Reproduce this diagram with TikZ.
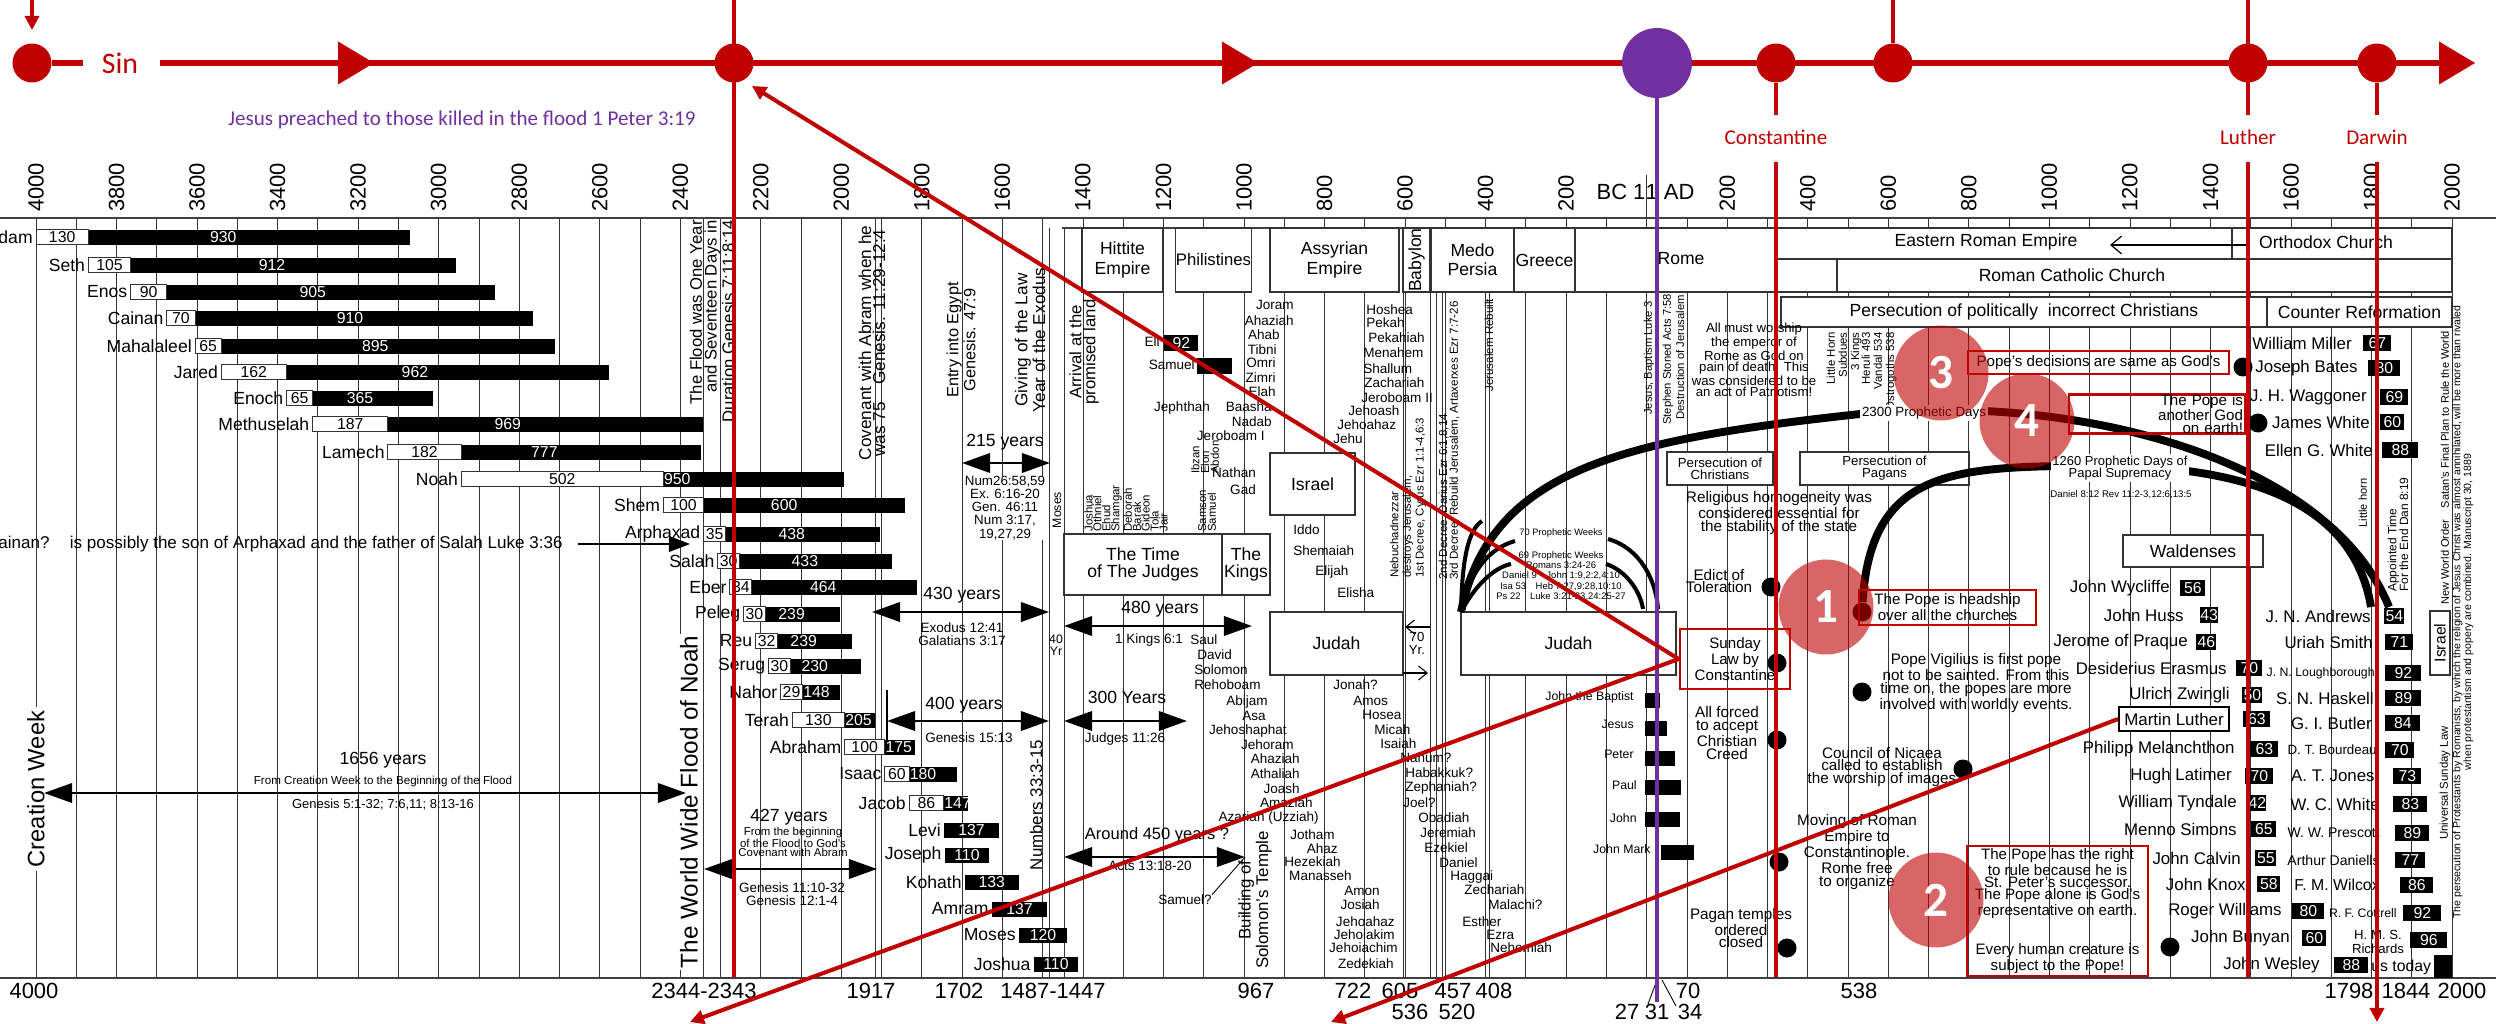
\documentclass[tikz,border=0pt]{standalone}
\usepackage{fontspec}
\setmainfont{Liberation Sans}
\newfontfamily\calibri{Carlito}
\usetikzlibrary{arrows.meta,positioning}
\definecolor{timered}{HTML}{C00000}
\definecolor{christpurple}{HTML}{7030A0}
\newcommand{\fsz}[2]{\fontsize{#1}{#2}\selectfont}

\begin{document}
\begin{tikzpicture}[x=0.02cm, y=-0.02cm,
  gridline/.style={black!80, line width=0.45pt},
  axisline/.style={black!75, line width=0.7pt},
  yearlab/.style={font=\fsz{12.5}{13}, inner sep=0pt},
  pname/.style={anchor=east, inner sep=0pt, font=\fsz{10}{11}},
  agebox/.style={draw=black!80, fill=white, line width=0.5pt},
  barnum/.style={inner sep=0pt, font=\fsz{9}{9}},
  era/.style={draw=black!80, fill=white, line width=0.6pt, align=center,
    inner sep=0pt, font=\fsz{10}{11}},
  dims/.style 2 args={minimum width=#1*0.02cm, minimum height=#2*0.02cm},
  note/.style={align=center, inner sep=0pt, font=\fsz{8.7}{7.2}},
  smallnote/.style={align=center, inner sep=0pt, font=\fsz{7.7}{7.4}},
  tinynote/.style={align=center, inner sep=0pt, font=\fsz{6.5}{5.5}},
  sideways/.style={rotate=90, inner sep=0pt},
  yearspan/.style={line width=1.6pt,
    {Triangle[length=16pt,width=11pt]}-{Triangle[length=16pt,width=11pt]}},
  spanlab/.style={inner sep=0pt, font=\fsz{10}{11}},
  kname/.style={inner sep=0pt, font=\fsz{7.7}{8}},
  rname/.style={anchor=east, inner sep=0pt, font=\fsz{9.6}{10}},
  lifebox/.style={fill=black, text=white, inner sep=0pt, font=\fsz{9}{9},
    minimum height=0.31cm, anchor=west},
  evdot/.style={circle, fill=black, inner sep=0pt, minimum size=0.38cm},
  prophecy/.style={line width=4.5pt},
  weeks/.style={line width=2.3pt},
  redbox/.style={draw=timered, line width=1.5pt, align=center, inner sep=0pt,
    font=\fsz{8.6}{7.2}},
  redline/.style={timered, line width=2.3pt},
  redarrow/.style={redline, -{Triangle[length=8pt,width=8pt]}},
  timeline/.style={timered, line width=3.2pt},
  redpt/.style={circle, fill=timered, inner sep=0pt, minimum size=0.78cm},
  redlab/.style={text=timered, font=\calibri\fsz{12}{12}, inner sep=0pt},
  numdot/.style={circle, fill=timered, fill opacity=0.6, text opacity=1,
    text=white, font=\calibri\bfseries\fsz{28}{28}, minimum size=1.9cm,
    inner sep=0pt},
]
\useasboundingbox (0,0) rectangle (2496,1024);

% ---------- chart frame
\foreach \k in {0,...,60}
  \draw[gridline] ({36+40.267*\k},218) -- ({36+40.267*\k},978);
\foreach \gx/\gy in {703/218,720/435,875/218,881/218,1042/218,1049/228,1064/228,
  1403/228,1430/228,1436/292,1442/292,1485/292,1489/292,1646/175}
  \draw[gridline] (\gx,\gy) -- (\gx,978);
\draw[axisline] (0,218) -- (2496,218);
\draw[axisline] (1062,228) -- (2452,228);
\draw[axisline] (0,978) -- (2496,978);

\foreach \yr in {4000,3800,...,200}
  \node[yearlab, rotate=90, anchor=west] (bc\yr) at ({36+0.40267*(4000-\yr)},212) {\yr};
\foreach \yr in {200,400,...,2000}
  \node[yearlab, rotate=90, anchor=west] (ad\yr) at ({1646.7+0.40267*\yr},212) {\yr};
\node[yearlab] (bc1) at (1621,192) {BC 1};
\node[yearlab] (ad1) at (1670,192) {1 AD};

\foreach \lab/\lx [count=\i] in {4000/34, 2344-2343/704, 1917/871, 1702/959,
  1487-1447/1053, 967/1256, 722/1353, 605/1400, 457/1453, 408/1494, 70/1688,
  538/1859, 1798/2349, 1844/2406, 2000/2462}
  \node[yearlab] (bot\i) at (\lx,991) {\lab};
\foreach \lab/\lx [count=\i] in {536/1410, 520/1457, 27/1627, 31/1657, 34/1690}
  \node[yearlab] (low\i) at (\lx,1012) {\lab};
\draw[line width=0.5pt] (1648,1004) -- (1657,980);
\draw[line width=0.5pt] (1662,980) -- (1676,1006);

% ---------- patriarchs
\foreach \nm/\by/\bx/\tot/\ry in {Adam/4000/130/930/237, Seth/3870/105/912/265,
  Enos/3765/90/905/292, Cainan/3675/70/910/318, Mahalaleel/3605/65/895/346,
  Jared/3540/162/962/372, Enoch/3378/65/365/398, Methuselah/3313/187/969/424,
  Lamech/3126/182/777/452, Noah/2944/502/950/479, Shem/2442/100/600/505,
  Arphaxad/2342/35/438/534, Salah/2307/30/433/561, Eber/2277/34/464/587,
  Peleg/2243/30/239/614, Reu/2213/32/239/641, Serug/2181/30/230/666,
  Nahor/2151/29/148/692, Terah/2122/130/205/720, Abraham/1992/100/175/747,
  Isaac/1892/60/180/774, Jacob/1832/86/147/803, Levi/1745/0/137/830,
  Joseph/1743/0/110/855, Kohath/1693/0/133/882, Amram/1626/0/137/909,
  Moses/1559/0/120/935, Joshua/1522/0/110/964}{
  \pgfmathsetmacro\xs{36+0.40267*(4000-\by)}
  \pgfmathsetmacro\xb{\xs}
  \ifnum\bx>0 \pgfmathsetmacro\xb{\xs+max(0.40267*\bx,22)}\fi
  \pgfmathsetmacro\xe{\xs+0.40267*\tot}
  \pgfmathsetmacro\xt{max((\xs+\xe)/2,\xb+14)}
  \fill (\xb,\ry-7.5) rectangle (\xe,\ry+7.5);
  \ifnum\bx>0
    \draw[agebox] (\xs,\ry-7.5) rectangle (\xb,\ry+7.5);
    \node[barnum] (a\nm) at ({(\xs+\xb)/2},\ry) {\bx};
  \fi
  \node[barnum, text=white] (t\nm) at (\xt,\ry) {\tot};
  \node[pname] (p\nm) at (\xs-3,\ry) {\nm};
}

% ---------- empires
\node[era, dims={81}{64}] (hittite) at (1122.5,260) {Hittite\\Empire};
\node[era, dims={75}{64}, font=\fsz{9.5}{10}] (philistines) at (1213.5,260) {Philistines};
\node[era, dims={129}{64}] (assyria) at (1334.5,260) {Assyrian\\Empire};
\node[era, dims={27}{64}] (babylon) at (1416.5,260) {};
\node[sideways, font=\fsz{10}{10}] (babylonlab) at (babylon) {Babylon};
\node[era, dims={83}{64}] (medopersia) at (1472.5,260) {Medo\\Persia};
\node[era, dims={61}{64}] (greece) at (1544.5,260) {Greece};
\draw[era] (1575,228) -- (1777,228) -- (1777,259) -- (1837,259) -- (1837,292)
  -- (1575,292) -- cycle;
\node[inner sep=0pt, font=\fsz{10}{11}] (rome) at (1681,259) {Rome};
\node[era, dims={455}{31}] (eastrome) at (2004.5,243.5) {};
\node[inner sep=0pt, font=\fsz{10}{11}] (eastromelab) at (1986,242) {Eastern Roman Empire};
\node[era, dims={220}{31}] (orthodox) at (2342,243.5) {};
\node[inner sep=0pt, font=\fsz{10}{11}] (orthodoxlab) at (2326,242) {Orthodox Church};
\coordinate (schism) at (2247,245);
\coordinate (schismtip) at (2110,245);
\draw[line width=0.7pt, -{Straight Barb[length=6pt,width=10pt]}] (schism) -- (schismtip);
\node[era, dims={615}{33}] (catholic) at (2144.5,275.5) {};
\node[inner sep=0pt, font=\fsz{10}{11}] (catholiclab) at (2072,275) {Roman Catholic Church};
\node[era, dims={486}{30}] (incorrect) at (2024,312) {Persecution of politically\ \ incorrect Christians};
\node[era, dims={185}{30}] (counterref) at (2359.5,312) {Counter Reformation};
\node[era, dims={158}{61}, font=\fsz{10}{10}] (judges) at (1143,564.5) {The Time\\of The Judges};
\node[era, dims={48}{61}, font=\fsz{10}{10}] (kings) at (1246,564.5) {The\\Kings};
\node[era, dims={85}{62}] (israel) at (1312.5,484) {Israel};
\node[era, dims={133}{63}] (judahleft) at (1336.5,643.5) {Judah};
\node[era, dims={215}{63}] (judahright) at (1568.5,643.5) {Judah};
\node[era, dims={106}{33}, font=\fsz{7.5}{6.8}] (persecchr) at (1720,468.5) {Persecution of\\Christians};
\node[era, dims={169}{33}, font=\fsz{7.5}{6.8}] (persecpag) at (1884.5,468.5) {Persecution of\\Pagans};
\node[era, dims={140}{32}] (waldenses) at (2193,551) {Waldenses};
\node[era, dims={20}{64}] (israelright) at (2440,643) {};
\node[sideways, font=\fsz{9}{9}] (israelrightlab) at (israelright) {Israel};

% ---------- exile
\node[tinynote, font=\fsz{7.5}{7.5}] (yr70) at (1417,643) {70\\Yr.};
\coordinate (exileA) at (1430,627);
\coordinate (exileB) at (1405,627);
\coordinate (exileC) at (1403,673);
\coordinate (exileD) at (1428,673);
\draw[line width=0.6pt, -{Straight Barb[length=5pt,width=8pt]}] (exileA) -- (exileB);
\draw[line width=0.6pt, -{Straight Barb[length=5pt,width=8pt]}] (exileC) -- (exileD);

% ---------- flood and creation
\node[sideways, font=\fsz{13.5}{14}, fill=white, inner sep=2pt] (creationweek) at (36,789) {Creation Week};
\node[sideways, font=\fsz{13.8}{14}, fill=white, inner sep=1pt] (worldflood) at (689,802) {The World Wide Flood of Noah};
\node[sideways, anchor=east, align=right, font=\fsz{9.5}{8.4}] (floodyear) at (713,220)
  {The Flood was One Year\\and Seventeen Days in\\Duration Genesis 7:11;8:14};
\node[sideways, align=center, font=\fsz{9.8}{8}] (covenant) at (872,343)
  {Covenant with Abram when he\\was 75\quad Genesis. 11:29-12:4};
\node[sideways, align=center, font=\fsz{9.3}{8.5}] (egypt) at (961,340) {Entry into Egypt\\Genesis. 47:9};
\node[sideways, align=center, font=\fsz{9.8}{6}] (exodus) at (1030,340) {Giving of the Law\\Year of the Exodus};
\node[sideways, align=center, font=\fsz{9.5}{6}] (arrival) at (1084,352) {Arrival at the\\promised land};
\node[sideways, font=\fsz{9.6}{9}] (numbers) at (1036,805) {Numbers 33:3-15};
\node[sideways, font=\fsz{7}{7}] (mosesv) at (1057,510) {Moses};
\node[sideways, align=center, font=\fsz{9.6}{10}] (temple) at (1255,900) {Building of\\Solomon's Temple};
\node[sideways, anchor=west, align=left, font=\fsz{6.5}{5.1}] (judgenames) at (1126,532)
  {Joshua\\Othniel\\Ehud\\Shamgar\\Deborah\\Barak\\Gideon\\Tola\\Jair};
\node[sideways, anchor=west, align=left, font=\fsz{6.5}{5.5}] (judgenames2) at (1205,474) {Ibzan\\Elon\\Abdon};
\node[sideways, anchor=west, align=left, font=\fsz{6.5}{5.5}] (judgenames3) at (1207,532) {Samson\\Samuel};

\node[anchor=east, inner sep=0pt, font=\fsz{9.7}{10}] (cainan) at (563,544)
  {Cainan?\hspace{1.2em}is possibly the son of Arphaxad and the father of Salah Luke 3:36};
\coordinate (cainantip) at (690,544);
\draw[line width=0.8pt, -{Triangle[length=12pt,width=9pt]}, shorten <=0.3cm] (cainan.east) -- (cainantip);

% ---------- spans of years
\coordinate (cw1656) at (44,793);
\coordinate (fl1656) at (686,793);
\draw[yearspan] (cw1656) -- (fl1656);
\node[spanlab] (y1656) at (383,760) {1656 years};
\node[tinynote, font=\fsz{6.6}{6}, below=4pt of y1656] (y1656note) {From Creation Week to the Beginning of the Flood};
\node[smallnote, font=\fsz{7.4}{7.4}] (y1656ref) at (383,805) {Genesis 5:1-32; 7:6,11; 8:13-16};

\node[spanlab] (y427) at (789,817) {427 years};
\node[tinynote, font=\fsz{6.5}{4.9}] (y427note) at (793,842) {From the beginning\\of the Flood to God's\\Covenant with Abram};
\coordinate (fl427) at (704,869);
\coordinate (ab427) at (877,869);
\draw[yearspan] (fl427) -- (ab427);
\node[smallnote] (y427ref) at (792,894) {Genesis 11:10-32\\Genesis 12:1-4};

\node[spanlab] (y215) at (1005,442) {215 years};
\coordinate (eg215) at (962,463);
\coordinate (ex215) at (1050,463);
\draw[yearspan] (eg215) -- (ex215);
\node[smallnote, fill=white, font=\fsz{7.6}{7.5}] (ref215) at (1005,508) {Num26:58,59\\Ex. 6:16-20\\Gen. 46:11\\Num 3:17,\\19,27,29};

\node[spanlab] (y430) at (962,595) {430 years};
\coordinate (ab430) at (872,612);
\coordinate (ex430) at (1049,612);
\draw[yearspan] (ab430) -- (ex430);
\node[smallnote] (ref430) at (962,634) {Exodus 12:41\\Galatians 3:17};

\node[spanlab] (y400) at (964,705) {400 years};
\coordinate (ab400) at (887,721);
\coordinate (ex400) at (1049,721);
\draw[yearspan] (ab400) -- (ex400);
\draw[line width=1.6pt] (887,690) -- (887,742);
\node[smallnote] (ref400) at (969,738) {Genesis 15:13};
\node[tinynote, font=\fsz{7}{6.5}] (yr40) at (1056,645) {40\\Yr};

\node[spanlab] (y480) at (1160,609) {480 years};
\coordinate (ex480) at (1064,626);
\coordinate (tp480) at (1252,626);
\draw[yearspan] (ex480) -- (tp480);
\node[smallnote] (ref480) at (1149,640) {1 Kings 6:1};

\node[spanlab] (y300) at (1127,697) {300 Years};
\coordinate (ex300) at (1064,721);
\coordinate (jp300) at (1187,721);
\draw[yearspan] (ex300) -- (jp300);
\node[smallnote] (ref300) at (1125,739) {Judges 11:26};

\node[spanlab, font=\fsz{9.4}{10}] (y450) at (1157,835) {Around 450 years ?};
\coordinate (ex450) at (1064,857);
\coordinate (sm450) at (1245,857);
\draw[yearspan] (ex450) -- (sm450);
\node[smallnote] (ref450) at (1150,866) {Acts 13:18-20};
\node[smallnote] (samuelq) at (1185,900) {Samuel?};
\draw[line width=0.5pt] (samuelq.north east) -- (sm450);

% ---------- judges and kings
\node[kname, anchor=east] (eli) at (1160,342) {Eli};
\node[lifebox, minimum width=0.68cm] (eli92) at (1164,343) {92};
\node[kname, anchor=east] (samuel) at (1195,365) {Samuel};
\node[lifebox, minimum width=0.7cm] (samuelbar) at (1197,366) {};
\node[kname] (jephthah) at (1182,408) {Jephthah};
\node[kname] (nathan) at (1234,473) {Nathan};
\node[kname] (gad) at (1243,490) {Gad};

\foreach \nm/\kx/\ky [count=\i] in {Joram/1294/305, Ahaziah/1294/321, Ahab/1280/335,
  Tibni/1277/350, Omri/1276/363, Zimri/1276/378, Elah/1276/392, Baasha/1272/407,
  Nadab/1272/422, Jeroboam I/1265/436}
  \node[kname, anchor=east] (ik\i) at (\kx,\ky) {\nm};
\foreach \nm/\kx/\ky [count=\i] in {Hoshea/1366/310, Pekah/1366/323, Pekahiah/1368/338,
  Menahem/1363/353, Shallum/1363/369, Zachariah/1364/383, Jeroboam II/1361/398,
  Jehoash/1348/411, Jehoahaz/1337/425, Jehu/1333/439}
  \node[kname, anchor=west] (iw\i) at (\kx,\ky) {\nm};
\foreach \nm/\kx/\ky [count=\i] in {Iddo/1293/530, Shemaiah/1293/551, Elijah/1315/572,
  Elisha/1337/593}
  \node[kname, anchor=west] (pp\i) at (\kx,\ky) {\nm};
\foreach \nm/\kx/\ky [count=\i] in {Saul/1190/640, David/1197/655, Solomon/1194/670,
  Rehoboam/1194/685}
  \node[kname, anchor=west] (jw\i) at (\kx,\ky) {\nm};
\foreach \nm/\kx/\ky [count=\i] in {Abijam/1268/702, Asa/1266/716, Jehoshaphat/1287/731,
  Jehoram/1294/745, Ahaziah/1300/759, Athaliah/1300/774, Joash/1300/789,
  Amaziah/1313/803, Azariah (Uzziah)/1319/818, Jotham/1335/835, Ahaz/1338/849,
  Hezekiah/1341/862, Manasseh/1352/876, Amon/1380/891, Josiah/1380/905,
  Jehoahaz/1395/922, Jehoiakim/1395/935, Jehoiachim/1398/948, Zedekiah/1394/964}
  \node[kname, anchor=east] (jk\i) at (\kx,\ky) {\nm};
\foreach \nm/\kx/\ky [count=\i] in {Jonah?/1333/685, Amos/1353/701, Hosea/1362/715,
  Micah/1374/730, Isaiah/1380/744, Nahum?/1400/758, Habakkuk?/1405/773,
  Zephaniah?/1405/788, Joel?/1403/803, Obadiah/1418/818, Jeremiah/1420/833,
  Ezekiel/1424/848, Daniel/1439/863, Haggai/1450/877, Zechariah/1464/890,
  Malachi?/1488/905, Esther/1462/922, Ezra/1486/935, Nehemiah/1490/948}
  \node[kname, anchor=west] (pr\i) at (\kx,\ky) {\nm};

% ---------- decrees and apostles
\node[sideways, anchor=west, align=left, font=\fsz{6.5}{7.2}] (decree1) at (1408,578)
  {Nebuchadnezzar\\destroys Jerusalem,\\1st Decree, Cyrus Ezr 1:1-4,6:3};
\node[sideways, anchor=west, align=left, font=\fsz{6.6}{6.2}] (decree2) at (1449,580)
  {2nd Decree, Darius Ezr 6:1,8,14\\3rd Decree, Rebuild Jerusalem, Artaxerxes Ezr 7:7-26};
\node[sideways, anchor=west, font=\fsz{6.6}{6}] (rebuilt) at (1489,392) {Jerusalem Rebuilt};
\node[sideways, anchor=west, font=\fsz{6.4}{6}] (baptism) at (1649,415) {Jesus, Baptism Luke 3};
\node[sideways, anchor=west, font=\fsz{6.4}{6}] (stephen) at (1668,425) {Stephen Stoned Acts 7:58};
\node[sideways, anchor=west, font=\fsz{6.4}{6}] (destruction) at (1680,420) {Destruction of Jerusalem};

\foreach \nm/\ax/\ay/\bxa/\bxb/\by [count=\i] in {John the Baptist/1634/697/1645/1660/700,
  Jesus/1634/724/1645/1667/728, Peter/1634/754/1645/1675/758, Paul/1637/785/1645/1681/787,
  John/1637/818/1645/1680/819, John Mark/1651/849/1661/1694/852}{
  \node[kname, anchor=east, font=\fsz{7}{7}] (apostle\i) at (\ax,\ay) {\nm};
  \fill (\bxa,\by-7.5) rectangle (\bxb,\by+7.5);
}

% ---------- church notes
\node[note, font=\fsz{7.5}{6.2}] (allmust) at (1754,360)
  {All must worship\\the emperor of\\Rome as God on\\pain of death. This\\was considered to be\\an act of Patriotism!};
\node[sideways, anchor=east, align=right, font=\fsz{6.5}{6.9}] (horn) at (1844,332) {Little Horn\\Subdues\\3 Kings};
\node[sideways, anchor=east, align=right, font=\fsz{6.5}{6.9}] (kings3) at (1879,332) {Heruli 493\\Vandal 534\\Ostrogoths 538};
\node[note] (religious) at (1779,513) {Religious homogeneity was\\considered essential for\\the stability of the state};
\node[note] (edict) at (1719,581) {Edict of\\Toleration};
\node[note] (allforced) at (1727,733) {All forced\\to accept\\Christian\\Creed};
\node[note] (moving) at (1857,852) {Moving of Roman\\Empire to\\Constantinople.\\Rome free\\to organize};
\node[note] (pagan) at (1741,928) {Pagan temples\\ordered\\closed};
\node[note] (vigilius) at (1976,683) {Pope Vigilius is first pope\\not to be sainted. From this\\time on, the popes are more\\involved with worldly events.};
\node[note] (nicaea) at (1882,767) {Council of Nicaea\\called to establish\\the worship of images};

\foreach \dx/\dy [count=\i] in {1771/587, 1777/663, 1777/740, 1779/862, 1787/948,
  1862/612, 1862/692, 1963/769, 2170/947, 2243/367, 2258/423}
  \node[evdot] (ev\i) at (\dx,\dy) {};

% ---------- reformers
\foreach \nm/\rx/\ry/\num/\bx/\bw [count=\i] in {John Wycliffe/2170/588/56/2180/25,
  John Huss/2184/615/43/2200/16, Jerome of Praque/2188/642/46/2196/20,
  Desiderius Erasmus/2227/668/70/2236/26, Ulrich Zwingli/2230/695/50/2242/20,
  Philipp Melanchthon/2235/749/63/2250/28, Hugh Latimer/2232/776/70/2245/28,
  William Tyndale/2237/803/42/2248/18, Menno Simons/2237/829/65/2251/25,
  John Calvin/2241/858/55/2255/21, John Knox/2246/884/58/2257/23,
  Roger Williams/2282/911/80/2292/32, John Bunyan/2290/938/60/2302/24,
  John Wesley/2320/965/88/2334/34}{
  \pgfmathsetmacro\bwcm{\bw*0.02}
  \node[rname] (rf\i) at (\rx,\ry) {\nm};
  \node[lifebox, minimum width=\bwcm cm] (rl\i) at (\bx,\ry) {\num};
}
\node[draw, fill=white, line width=1.2pt, inner sep=0pt, font=\fsz{9.6}{10}, dims={110}{24}] (lutherbox) at (2174,719) {Martin Luther};
\node[lifebox, minimum width=0.54cm] (lutherage) at (2243,719) {63};

\foreach \nm/\rx/\ry/\num/\bx/\bw/\fs [count=\i] in {William Miller/2352/343/67/2363/28/9.6,
  Joseph Bates/2358/368/80/2368/32/9.6, J. H. Waggoner/2367/397/69/2380/28/9.6,
  James White/2370/422/60/2380/24/9.6, Ellen G. White/2373/450/88/2382/36/9.6,
  J. N. Andrews/2371/616/54/2384/20/9.6, Uriah Smith/2373/642/71/2385/28/9.6,
  J. N. Loughborough/2375/673/92/2385/36/7, S. N. Haskell/2374/698/89/2385/36/9.6,
  G. I. Butler/2372/723/84/2385/35/9.6, D. T. Bourdeau/2377/750/70/2385/29/7.6,
  A. T. Jones/2375/776/73/2393/28/9.6, W. C. White/2380/804/83/2393/34/9.6,
  W. W. Prescott/2380/833/89/2395/34/8, Arthur Daniells/2380/860/77/2395/30/8,
  F. M. Wilcox/2380/885/86/2400/33/9, R. F. Cottrell/2397/913/92/2403/38/7}{
  \pgfmathsetmacro\bwcm{\bw*0.02}
  \node[rname, font=\fsz{\fs}{\fs}] (sda\i) at (\rx,\ry) {\nm};
  \node[lifebox, minimum width=\bwcm cm] (sdl\i) at (\bx,\ry) {\num};
}
\node[align=center, inner sep=0pt, font=\fsz{7.5}{7.5}] (richards) at (2378,942) {H. M. S.\\Richards};
\node[lifebox, minimum width=0.74cm] (richardsage) at (2410,940) {96};
\node[anchor=west, inner sep=0pt, font=\fsz{9}{9}] (ustoday) at (2371,967) {us today};
\node[lifebox, minimum width=0.36cm, minimum height=0.46cm] (todaybar) at (2434,966.5) {};

\node[sideways, font=\fsz{6.3}{6}] (littlehorn) at (2363,503) {Little horn};
\node[sideways, anchor=west, align=left, font=\fsz{6.8}{6.6}] (appointed) at (2398,592) {Appointed Time\\For the End Dan 8:19};
\node[sideways, anchor=west, font=\fsz{6.3}{6}] (nwo) at (2445,605) {New World Order\quad Satan's Final Plan to Rule the World};
\node[sideways, font=\fsz{6.5}{6}] (sundaylaw) at (2445,783) {Universal Sunday Law};
\node[sideways, align=center, font=\fsz{6}{6}] (persecution) at (2463,612)
  {The persecution of Protestants by Romanists, by which the religion of Jesus Christ was almost annihilated, will be more than rivaled\\when protestantism and popery are combined. Manuscript 30, 1889};

% ---------- prophetic periods
\coordinate (decree457) at (1461,612);
\coordinate (end1844) at (2389,607);
\coordinate (end1798) at (2371,607);
\draw[prophecy] (decree457) .. controls (1490,470) and (1620,440) .. (1860,414)
  .. controls (2080,392) and (2330,460) .. (end1844);
\draw[prophecy] (ev6) .. controls (1870,480) and (1940,468) .. (2060,466)
  .. controls (2200,462) and (2350,480) .. (end1798);
\draw[weeks] (decree457) .. controls (1462,560) and (1468,530) .. (1482,521);
\draw[weeks] (decree457) .. controls (1470,570) and (1490,548) .. (1515,541);
\draw[weeks] (decree457) .. controls (1475,585) and (1495,567) .. (1511,564);
\draw[weeks] (1608,539) .. controls (1640,548) and (1656,580) .. (1658,609);
\draw[weeks] (1606,564) .. controls (1625,570) and (1640,590) .. (1643,609);
\node[tinynote, font=\fsz{5.3}{5}] (w70) at (1561,533) {70 Prophetic Weeks};
\node[tinynote, font=\fsz{5.4}{5.8}] (w69) at (1561,576)
  {69 Prophetic Weeks\\Romans 3:24-26\\Daniel 9\quad John 1:9,2:2,4:10\\Isa 53\quad Heb 7:27,9:28,10:10\\Ps 22\quad Luke 3:21-23,24:25-27};
\node[fill=white, inner sep=1pt, font=\fsz{7.6}{8}] (d2300) at (1924,413) {2300 Prophetic Days};
\node[fill=white, inner sep=1pt, align=center, font=\fsz{7.4}{7.2}] (d1260) at (2120,468) {1260 Prophetic Days of\\Papal Supremacy};
\node[inner sep=0pt, font=\fsz{5.5}{5}] (d1260ref) at (2121,495) {Daniel 8:12 Rev 11:2-3,12:6,13:5};

% ---------- red boxes
\node[redbox, dims={110}{60}] (sunday) at (1735,659) {Sunday\\Law by\\Constantine};
\node[redbox, dims={177}{35}] (headship) at (1947.5,607.5) {The Pope is headship\\over all the churches};
\node[redbox, dims={261}{23}] (decisions) at (2098.5,362.5) {Pope's decisions are same as God's};
\node[redbox, dims={176}{34}, text width=3.44cm, align=right] (anothergod) at (2157,414) {The Pope is another God\\on earth!};
\node[redbox, dims={181}{130}, font=\fsz{8.6}{6.9}] (ruleright) at (2057.5,911)
  {The Pope has the right\\to rule because he is\\St. Peter's successor.\\The Pope alone is God's\\representative on earth.\\[12.9pt]Every human creature is\\subject to the Pope!};

% ---------- red time line
\coordinate (skytop) at (32,0);
\coordinate (skytip) at (32,30);
\node[redpt] (creation) at (32,63) {};
\node[redlab, font=\calibri\fsz{17}{17}] (sin) at (120,63) {Sin};
\coordinate (lineend) at (2445,63);
\draw[redarrow] (skytop) -- (skytip);
\draw[timeline, shorten >=0.38cm] (creation) -- (sin.west);
\draw[timeline, shorten <=0.44cm] (sin.east) -- (lineend);
\foreach \tx in {338,1222,2439}
  \fill[timered] (\tx,41.5) -- (\tx+36,63) -- (\tx,84.5) -- cycle;
\node[redpt] (flood) at (734,63) {};
\node[circle, fill=christpurple, inner sep=0pt, minimum size=1.4cm] (christ) at (1657,63) {};
\node[redpt] (constantine) at (1776,63) {};
\node[redpt] (papacy) at (1893,63) {};
\node[redpt] (luther) at (2248,63) {};
\node[redpt] (darwin) at (2377,63) {};
\node[inner sep=0pt, text=christpurple, font=\calibri\fsz{12}{12}] (preach) at (462,120)
  {Jesus preached to those killed in the flood 1 Peter 3:19};
\node[redlab] (constlab) at (1776,137) {Constantine};
\node[redlab] (lutherlab) at (2248,137) {Luther};
\node[redlab] (darwinlab) at (2377,137) {Darwin};

\coordinate (floodtop) at (734,0);
\coordinate (floodfoot) at (734,977);
\coordinate (christfoot) at (1657,1002);
\coordinate (constA) at (1776,115);
\coordinate (constB) at (1776,162);
\coordinate (constfoot) at (1776,977);
\coordinate (papacytop) at (1893,0);
\coordinate (luthertop) at (2248,0);
\coordinate (lutherA) at (2248,115);
\coordinate (lutherB) at (2248,162);
\coordinate (lutherfoot) at (2248,977);
\coordinate (darwinA) at (2377,115);
\coordinate (darwinB) at (2377,162);
\coordinate (darwinfoot) at (2377,1022);
\draw[redline] (floodtop) -- (floodfoot);
\draw[christpurple, line width=1.9pt] (christ) -- (christfoot);
\draw[redline] (constantine) -- (constA);
\draw[redline] (constB) -- (constfoot);
\draw[redline] (papacytop) -- (papacy);
\draw[redline] (luthertop) -- (lutherA);
\draw[redline] (lutherB) -- (lutherfoot);
\draw[redline] (darwin) -- (darwinA);
\draw[redarrow] (darwinB) -- (darwinfoot);

\coordinate (floodtip) at (752,86);
\coordinate (lowA) at (690,1022);
\coordinate (lowB) at (1331,1022);
\draw[redarrow] (sunday.west) -- (floodtip);
\draw[redarrow] (sunday.west) -- (lowA);
\draw[redarrow] (lutherbox.west) -- (lowB);

% ---------- numbered marks
\node[numdot] (n1) at (1826,607) {1};
\node[numdot] (n2) at (1936,900) {2};
\node[numdot] (n3) at (1941,373) {3};
\node[numdot] (n4) at (2027,421) {4};
\end{tikzpicture}
\end{document}
